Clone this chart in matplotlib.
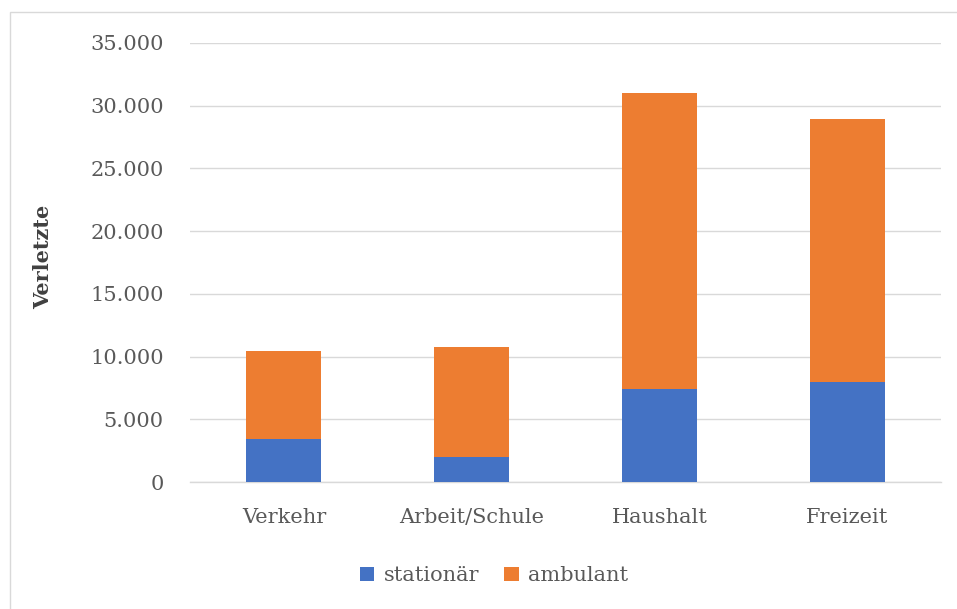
import matplotlib.pyplot as plt
import numpy as np
from matplotlib.patches import Rectangle
from matplotlib.ticker import FuncFormatter

categories = ['Verkehr', 'Arbeit/Schule', 'Haushalt', 'Freizeit']
stationaer = [3400, 2000, 7400, 7950]
gesamt = [10450, 10770, 31000, 28950]
ambulant = [g - s for g, s in zip(gesamt, stationaer)]

plt.rcParams['font.family'] = ['DejaVu Serif']

fig = plt.figure(figsize=(9.57, 6.09), dpi=100)
ax = fig.add_axes([190/957, 1 - 482/609, 751/957, 439/609])

x = np.arange(len(categories))
ax.bar(x, stationaer, width=0.4, color='#4472c4', label='stationär', zorder=3)
ax.bar(x, ambulant, width=0.4, bottom=stationaer, color='#ed7d31', label='ambulant', zorder=3)

ax.set_xlim(-0.5, 3.5)
ax.set_ylim(0, 35000)
ax.set_yticks(range(0, 35001, 5000))
ax.yaxis.set_major_formatter(FuncFormatter(lambda v, p: f'{int(v):,}'.replace(',', '.')))
ax.set_xticks(x)
ax.set_xticklabels(categories)
ax.grid(axis='y', color='#d9d9d9', linewidth=1, zorder=0)
ax.axhline(0, color='#d9d9d9', linewidth=1, zorder=1, clip_on=False)
for s in ax.spines.values():
    s.set_visible(False)
ax.tick_params(axis='both', length=0, colors='#595959', labelsize=15)
ax.tick_params(axis='y', pad=19)
ax.tick_params(axis='x', pad=19)
ax.set_ylabel('Verletzte', fontsize=15, fontweight='bold', color='#404040')
ax.yaxis.set_label_coords(-0.182, 0.512)

ax.legend(loc='center', bbox_to_anchor=(0.405, -0.214), ncol=2, frameon=False,
          fontsize=15, handlelength=0.7, handleheight=0.7, columnspacing=1.2,
          handletextpad=0.45, labelcolor='#595959')

fig.add_artist(Rectangle((10/957, -0.1), 1.2, 1 - 12/609 + 0.1, transform=fig.transFigure,
                         fill=False, edgecolor='#d9d9d9', linewidth=1))

fig.savefig('out.png', dpi=100)
